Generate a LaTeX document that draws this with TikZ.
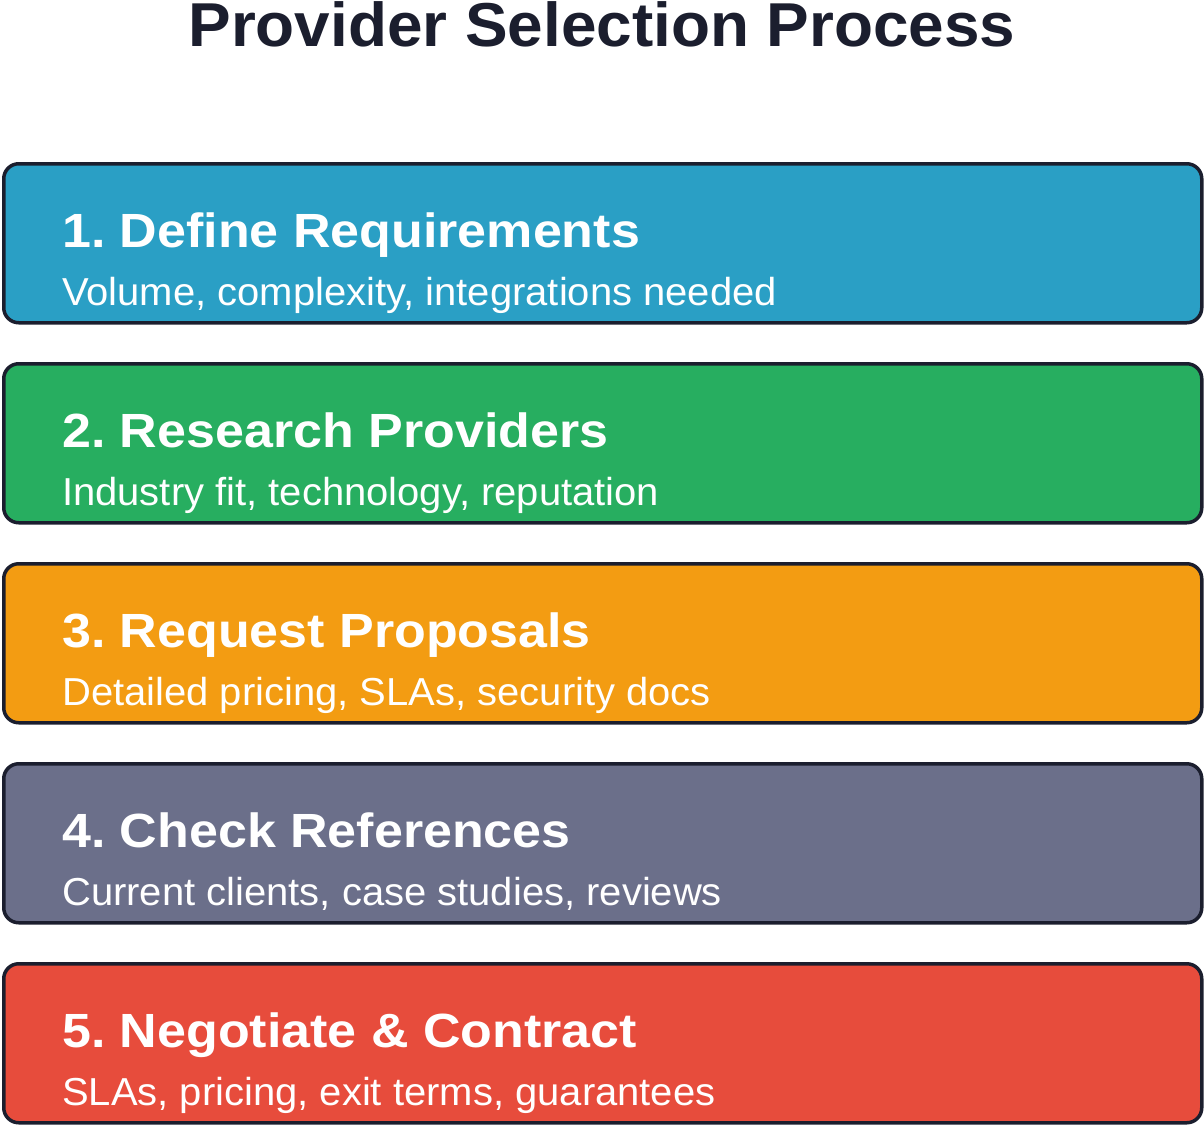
\documentclass[tikz,border=0pt]{standalone}
\usepackage{fontspec}
\setmainfont{Liberation Sans}
\frenchspacing
\usetikzlibrary{positioning}
\definecolor{inkdark}{HTML}{1B1E2E}
\definecolor{stepblue}{HTML}{2A9FC5}
\definecolor{stepgreen}{HTML}{27AE60}
\definecolor{steporange}{HTML}{F39C12}
\definecolor{stepgrey}{HTML}{6B6F8A}
\definecolor{stepred}{HTML}{E74C3C}
\tikzset{
  stepbox/.style={draw=inkdark, line width=3.5pt, rounded corners=15pt,
    minimum width=1198pt, minimum height=159pt, inner sep=0pt, anchor=north west},
  steptitle/.style={anchor=base west, inner sep=0pt, text=white, xscale=1.083, transform shape,
    font=\fontsize{48}{58}\selectfont\bfseries},
  stepnote/.style={anchor=base west, inner sep=0pt, text=white, xscale=1.025, transform shape,
    font=\fontsize{39}{46}\selectfont},
}
\begin{document}
\begin{tikzpicture}[x=1pt, y=-1pt]
	\useasboundingbox (0,0) rectangle (1204,1124);
	
	\node[anchor=base, inner sep=0pt, text=inkdark, xscale=1.03, transform shape,
	  font=\fontsize{62}{74}\selectfont\bfseries] (title) at (602,47) {Provider Selection Process};
	
	\node[stepbox, fill=stepblue] (b1) at (2,162) {};
	\node[stepbox, fill=stepgreen] (b2) at (2,362) {};
	\node[stepbox, fill=steporange] (b3) at (2,562) {};
	\node[stepbox, fill=stepgrey] (b4) at (2,762) {};
	\node[stepbox, fill=stepred] (b5) at (2,962) {};
	
	\node[steptitle] (t1) at ([xshift=60pt, yshift=-85pt]b1.north west) {1. Define Requirements};
	\node[stepnote] (n1) at ([xshift=60pt, yshift=-143pt]b1.north west) {Volume, complexity, integrations needed};
	
	\node[steptitle] (t2) at ([xshift=60pt, yshift=-85pt]b2.north west) {2. Research Providers};
	\node[stepnote] (n2) at ([xshift=60pt, yshift=-143pt]b2.north west) {Industry fit, technology, reputation};
	
	\node[steptitle] (t3) at ([xshift=60pt, yshift=-85pt]b3.north west) {3. Request Proposals};
	\node[stepnote] (n3) at ([xshift=60pt, yshift=-143pt]b3.north west) {Detailed pricing, SLAs, security docs};
	
	\node[steptitle] (t4) at ([xshift=60pt, yshift=-85pt]b4.north west) {4. Check References};
	\node[stepnote] (n4) at ([xshift=60pt, yshift=-143pt]b4.north west) {Current clients, case studies, reviews};
	
	\node[steptitle] (t5) at ([xshift=60pt, yshift=-85pt]b5.north west) {5. Negotiate \& Contract};
	\node[stepnote] (n5) at ([xshift=60pt, yshift=-143pt]b5.north west) {SLAs, pricing, exit terms, guarantees};
	
\end{tikzpicture}
\end{document}
